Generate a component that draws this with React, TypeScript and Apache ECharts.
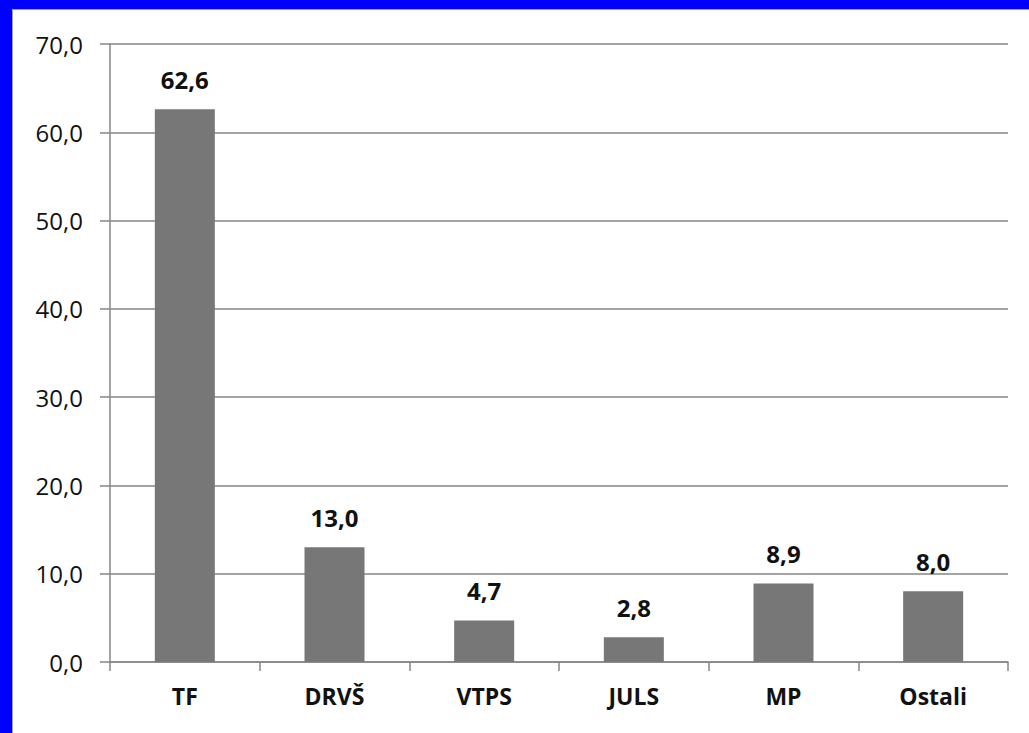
import React, { useEffect, useRef } from "react";
import * as echarts from "echarts";

const categories = ["TF", "DRVŠ", "VTPS", "JULS", "MP", "Ostali"];
const values = [62.6, 13.0, 4.7, 2.8, 8.9, 8.0];
const yMin = 0;
const yMax = 70;
const yStep = 10;

const fmt = (v: number) => v.toFixed(1).replace(".", ",");

export default function App() {
  const ref = useRef<HTMLDivElement>(null);
  useEffect(() => {
    document.body.style.margin = "0";
    if (!ref.current) return;
    const chart = echarts.init(ref.current, undefined, { renderer: "svg" });
    chart.setOption({
      animation: false,
      backgroundColor: "transparent",
      grid: { left: 110, right: 21, top: 44, bottom: 71, containLabel: false },
      xAxis: {
        type: "category",
        data: categories,
        axisLine: { lineStyle: { color: "#868686", width: 1.5 } },
        axisTick: { show: true, length: 9, alignWithLabel: false, lineStyle: { color: "#868686", width: 1.5 } },
        axisLabel: {
          margin: 22,
          color: "#111",
          fontSize: 23,
          fontWeight: "bold",
          fontFamily: "Open Sans",
        },
      },
      yAxis: {
        type: "value",
        min: yMin,
        max: yMax,
        interval: yStep,
        axisLine: { show: true, lineStyle: { color: "#868686", width: 1.5 } },
        axisTick: { show: true, length: 10, lineStyle: { color: "#868686", width: 1.5 } },
        splitLine: { show: true, lineStyle: { color: "#868686", width: 1.5 } },
        axisLabel: {
          margin: 27,
          color: "#111",
          fontSize: 24,
          fontFamily: "Open Sans",
          formatter: (v: number) => fmt(v),
        },
      },
      series: [
        {
          type: "bar",
          data: values,
          barWidth: 60,
          itemStyle: { color: "#777777" },
          label: {
            show: true,
            position: "top",
            distance: 18,
            color: "#111",
            fontSize: 24,
            fontWeight: "bold",
            fontFamily: "Open Sans",
            formatter: (p: any) => fmt(p.value),
          },
        },
      ],
    });
    return () => chart.dispose();
  }, []);
  return (
    <div style={{ position: "relative", width: 1029, height: 733, background: "#0000ff", overflow: "hidden" }}>
      <div
        style={{
          position: "absolute",
          left: 12,
          top: 9,
          width: 1029 - 12,
          height: 733 - 9,
          background: "#ffffff",
          borderLeft: "1px solid #a0a0a0",
          borderTop: "1px solid #a0a0a0",
          boxSizing: "border-box",
        }}
      />
      <div ref={ref} style={{ position: "absolute", left: 0, top: 0, width: 1029, height: 733 }} />
    </div>
  );
}
